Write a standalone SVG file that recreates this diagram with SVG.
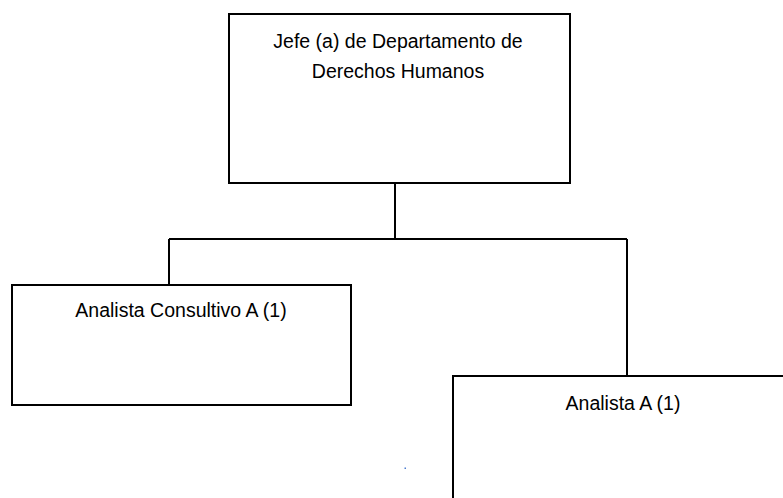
<svg xmlns="http://www.w3.org/2000/svg" width="783" height="498" viewBox="0 0 783 498">
<style>
.box{fill:#fff;stroke:#000;stroke-width:2}
.conn{fill:none;stroke:#000;stroke-width:2}
.lbl{font-family:"Liberation Sans",Arial,sans-serif;font-size:19.5px;fill:#000;text-anchor:middle}
</style>
<rect width="783" height="498" fill="#fff"/>
<g id="connectors">
<path class="conn" d="M395 183V239M169 239H627M169 239V285M627 239V376"/>
</g>
<g id="jefe">
<rect class="box" x="229" y="14" width="341" height="169"/>
<text class="lbl" x="398" y="48">Jefe (a) de Departamento de</text>
<text class="lbl" x="398" y="78">Derechos Humanos</text>
</g>
<g id="analista-consultivo">
<rect class="box" x="12" y="285" width="339" height="120"/>
<text class="lbl" x="181" y="317">Analista Consultivo A (1)</text>
</g>
<g id="analista">
<rect class="box" x="453" y="376" width="360" height="150"/>
<text class="lbl" x="623" y="410">Analista A (1)</text>
</g>
<rect x="404.5" y="467.5" width="1.5" height="1.5" fill="#4a7bd0"/>
</svg>
